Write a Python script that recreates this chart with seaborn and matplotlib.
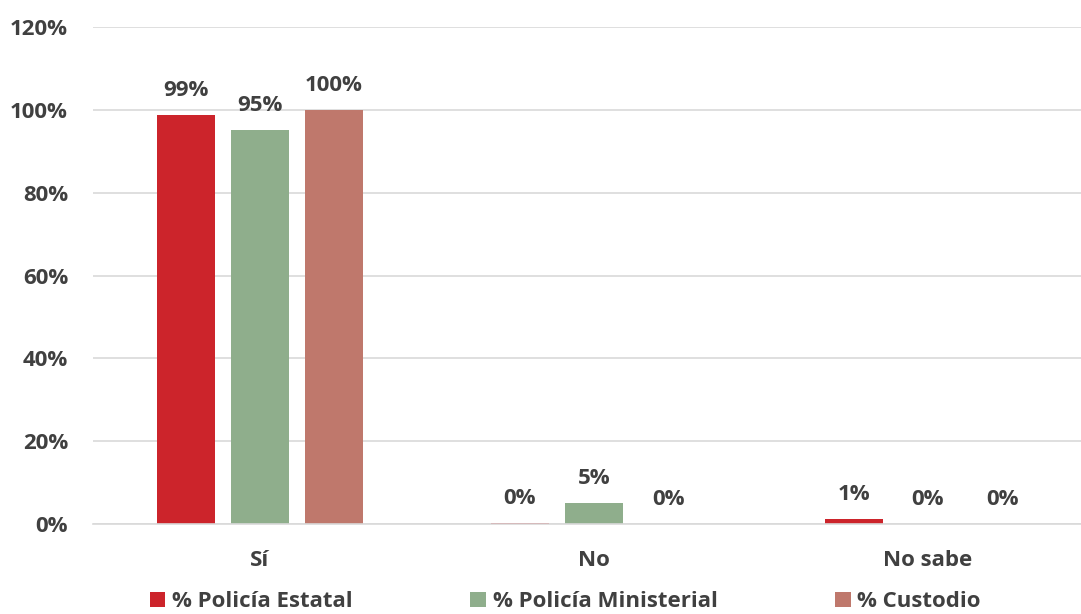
import pandas as pd
import matplotlib.pyplot as plt
import seaborn as sns

# Data
categorias = ['Sí', 'No', 'No sabe']
series = ['% Policía Estatal', '% Policía Ministerial', '% Custodio']
estatal = [98.8, 0.3, 1.2]
ministerial = [95.2, 5.1, 0.0]
custodio = [100.0, 0.0, 0.0]
colores = ['#CC242B', '#8FAE8C', '#BF786C']

# Long format for seaborn
df = pd.DataFrame({
    'categoria': categorias * 3,
    'serie': [series[0]] * 3 + [series[1]] * 3 + [series[2]] * 3,
    'valor': estatal + ministerial + custodio,
})

sns.set_style('white')
plt.rcParams['font.family'] = ['Open Sans', 'DejaVu Sans']
plt.rcParams['font.weight'] = 'bold'
texto = '#404040'
fs = 16

fig = plt.figure(figsize=(10.81, 6.14), dpi=100)
ax = fig.add_axes([93 / 1081, 1 - 524 / 614, 1002 / 1081, 497 / 614])

sns.barplot(data=df, x='categoria', y='valor', hue='serie', order=categorias,
            hue_order=series, palette=colores, width=0.665, gap=0.216,
            saturation=1, linewidth=0, ax=ax, legend=True)

# Value labels
for cont in ax.containers:
    ax.bar_label(cont, labels=[f'{b.get_height():.0f}%' for b in cont],
                 padding=10, fontsize=fs, fontweight='bold', color=texto)

ax.set_ylim(0, 120)
ax.set_xlim(-0.5, 2.5)
ax.set_yticks(range(0, 121, 20))
ax.set_yticklabels([f'{t}%' for t in range(0, 121, 20)])
ax.yaxis.grid(True, color='#D9D9D9', linewidth=1.2)
ax.set_axisbelow(True)
ax.tick_params(axis='both', length=0, labelsize=fs, labelcolor=texto)
ax.tick_params(axis='y', pad=18)
ax.tick_params(axis='x', pad=19)
for lbl in ax.get_xticklabels() + ax.get_yticklabels():
    lbl.set_fontweight('bold')
ax.set_xlabel('')
ax.set_ylabel('')
sns.despine(ax=ax, left=True)
ax.spines['bottom'].set_color('#D9D9D9')
ax.spines['bottom'].set_linewidth(1.2)

# Legend at the bottom
handles, labels = ax.get_legend_handles_labels()
ax.get_legend().remove()
fig.legend(handles, labels, loc='lower center', bbox_to_anchor=(0.523, -0.03),
           ncol=3, frameon=False, handlelength=0.7,
           handleheight=0.7, handletextpad=0.3, columnspacing=5.3,
           labelcolor=texto, prop={'weight': 'bold', 'size': fs})

fig.savefig('out.png', dpi=100)
